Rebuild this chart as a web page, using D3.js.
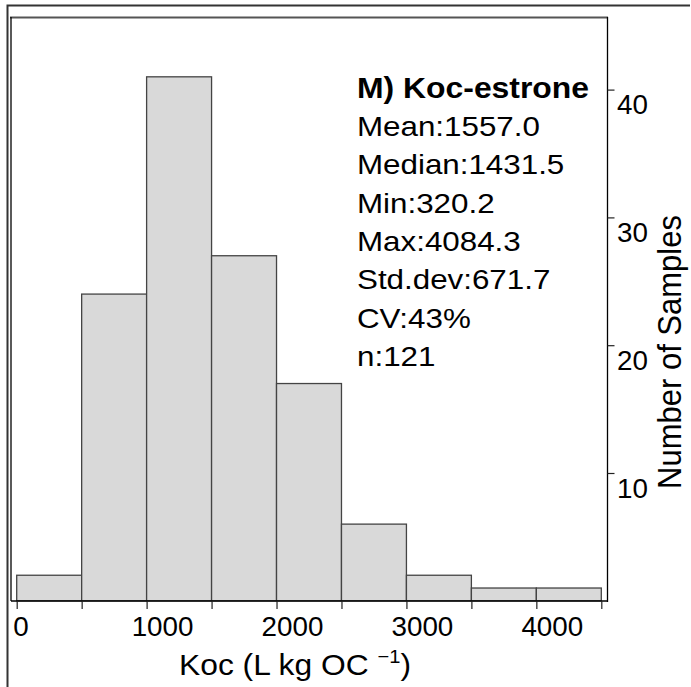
<!DOCTYPE html>
<html>
<head>
<meta charset="utf-8">
<script src="https://cdn.jsdelivr.net/npm/d3@7"></script>
<style>
  html, body { margin: 0; padding: 0; background: #fff; }
  svg { display: block; }
  text { font-family: "Liberation Sans", Arial, Helvetica, sans-serif; }
</style>
</head>
<body>
<svg id="chart" width="691" height="687"></svg>
<script>
// Histogram bins (left edges) and sample counts per bin
const binStarts = [0, 500, 1000, 1500, 2000, 2500, 3000, 3500, 4000];
const binWidth = 500;
const counts = [2, 24, 41, 27, 17, 6, 2, 1, 1];

// Axis ticks and labels
const xTicks = [0, 500, 1000, 1500, 2000, 2500, 3000, 3500, 4000, 4500];
const xLabels = [0, 1000, 2000, 3000, 4000];
const yTicks = [10, 20, 30, 40];

// Summary statistics block
const panelTitle = "M) Koc-estrone";
const statLines = ["Mean:1557.0", "Median:1431.5", "Min:320.2", "Max:4084.3",
                   "Std.dev:671.7", "CV:43%", "n:121"];

const xTitle = "Koc (L kg OC ";
const xTitleSup = "\u22121";
const yTitle = "Number of Samples";

// glyphs are drawn slightly wide
const stretch = 1.1;
const tickStretch = 1.03;

const svg = d3.select("#chart");

const x = d3.scaleLinear().domain([0, 4500]).range([16.7, 601.3]);
const y = d3.scaleLinear().domain([0, 40]).range([600.8, 89.6]);

// outer frame (top and left edges)
svg.append("path")
  .attr("d", "M7.5,687V5.5H690")
  .attr("fill", "none")
  .attr("stroke", "#333")
  .attr("stroke-width", 2);

// histogram bars
svg.append("g")
  .selectAll("rect")
  .data(counts)
  .join("rect")
  .attr("x", (d, i) => x(binStarts[i]))
  .attr("width", (d, i) => x(binStarts[i] + binWidth) - x(binStarts[i]))
  .attr("y", d => y(d))
  .attr("height", d => y(0) - y(d))
  .attr("fill", "#d9d9d9")
  .attr("stroke", "#444")
  .attr("stroke-width", 1.3);

// plot box
svg.append("line")
  .attr("x1", 10).attr("x2", 608).attr("y1", 17.5).attr("y2", 17.5)
  .attr("stroke", "#555").attr("stroke-width", 2);
svg.append("line")
  .attr("x1", 11).attr("x2", 11).attr("y1", 17).attr("y2", 601)
  .attr("stroke", "#000").attr("stroke-width", 1.3);
svg.append("line")
  .attr("x1", 607.5).attr("x2", 607.5).attr("y1", 17).attr("y2", 602)
  .attr("stroke", "#000").attr("stroke-width", 1.3);

// bottom axis
const xAxis = d3.axisBottom(x)
  .tickValues(xTicks)
  .tickSize(8)
  .tickSizeOuter(0)
  .tickFormat(d => xLabels.includes(d) ? String(d) : "");

const gx = svg.append("g")
  .attr("transform", "translate(0,601)")
  .call(xAxis)
  .attr("font-family", null)
  .attr("font-size", null);

gx.select(".domain")
  .attr("d", "M11,0H608")
  .attr("stroke", "#000")
  .attr("stroke-width", 1.5);
gx.selectAll(".tick line").attr("stroke", "#222").attr("stroke-width", 1.2);
gx.selectAll(".tick text")
  .attr("font-size", 27)
  .attr("fill", "#000")
  .attr("text-anchor", "middle")
  .attr("y", 35.5)
  .attr("dy", 0)
  .attr("transform", function () {
    const w = this.getComputedTextLength() * tickStretch;
    return `translate(${w / 4},0) scale(${tickStretch},1)`;
  });

// right axis
const yAxis = d3.axisRight(y)
  .tickValues(yTicks)
  .tickSize(7)
  .tickSizeOuter(0);

const gy = svg.append("g")
  .attr("transform", "translate(607.5,0)")
  .call(yAxis)
  .attr("font-family", null)
  .attr("font-size", null);

gy.select(".domain").remove();
gy.selectAll(".tick line").attr("stroke", "#222").attr("stroke-width", 1.2);
gy.selectAll(".tick text")
  .attr("font-size", 27)
  .attr("fill", "#000")
  .attr("text-anchor", "start")
  .attr("x", 0)
  .attr("dy", 0)
  .attr("transform", `translate(9.5,24) scale(${tickStretch},1)`);

// statistics block
const stats = svg.append("g");
stats.append("text")
  .attr("transform", `translate(357,97.7) scale(${stretch},1)`)
  .attr("font-size", 29)
  .attr("font-weight", "bold")
  .text(panelTitle);
stats.selectAll("text.stat")
  .data(statLines)
  .join("text")
  .attr("class", "stat")
  .attr("transform", (d, i) => `translate(357,${97.7 + 38.3 * (i + 1)}) scale(${stretch},1)`)
  .attr("font-size", 28.5)
  .text(d => d);

// x axis title
const xt = svg.append("text")
  .attr("transform", "translate(179,675) scale(1.06,1)")
  .attr("font-size", 30);
xt.append("tspan").text(xTitle);
xt.append("tspan").attr("font-size", 19).attr("dy", -12).text(xTitleSup);
xt.append("tspan").attr("dy", 12).text(")");

// y axis title
svg.append("text")
  .attr("transform", "translate(681,352) scale(1.05,1) rotate(-90)")
  .attr("text-anchor", "middle")
  .attr("font-size", 31)
  .text(yTitle);
</script>
</body>
</html>
